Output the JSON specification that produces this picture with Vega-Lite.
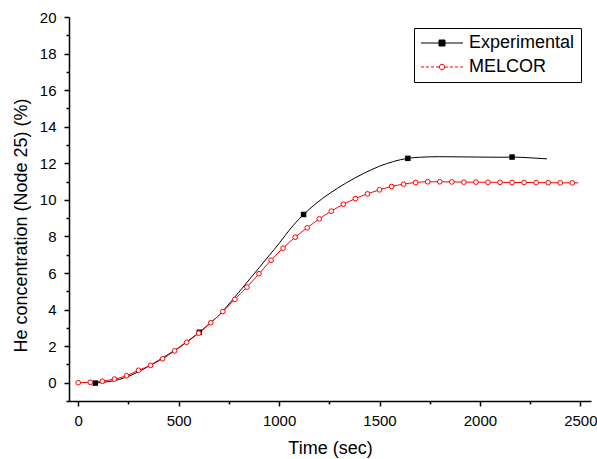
{
  "$schema": "https://vega.github.io/schema/vega-lite/v6.json",
  "width": 522,
  "height": 384,
  "autosize": {"type": "none"},
  "padding": {"left": 69, "top": 17, "right": 6, "bottom": 58},
  "background": "white",
  "config": {
    "view": {"stroke": null},
    "font": "Liberation Sans",
    "axis": {
      "grid": false,
      "domainColor": "black",
      "domainWidth": 1.5,
      "tickColor": "black",
      "tickWidth": 1.5,
      "labelColor": "black",
      "labelFont": "Liberation Sans",
      "labelFontSize": 15,
      "titleFont": "Liberation Sans",
      "titleFontSize": 18,
      "titleFontWeight": "normal",
      "titleColor": "black"
    }
  },
  "data": {
    "values": [
      {"series": "Experimental", "time": 85, "conc": -0.02, "marker": 1},
      {"series": "Experimental", "time": 150, "conc": 0.06, "marker": 0},
      {"series": "Experimental", "time": 200, "conc": 0.17, "marker": 0},
      {"series": "Experimental", "time": 250, "conc": 0.35, "marker": 0},
      {"series": "Experimental", "time": 300, "conc": 0.6, "marker": 0},
      {"series": "Experimental", "time": 350, "conc": 0.9, "marker": 0},
      {"series": "Experimental", "time": 400, "conc": 1.22, "marker": 0},
      {"series": "Experimental", "time": 450, "conc": 1.56, "marker": 0},
      {"series": "Experimental", "time": 500, "conc": 1.92, "marker": 0},
      {"series": "Experimental", "time": 550, "conc": 2.32, "marker": 0},
      {"series": "Experimental", "time": 603, "conc": 2.76, "marker": 1},
      {"series": "Experimental", "time": 650, "conc": 3.2, "marker": 0},
      {"series": "Experimental", "time": 700, "conc": 3.68, "marker": 0},
      {"series": "Experimental", "time": 750, "conc": 4.3, "marker": 0},
      {"series": "Experimental", "time": 800, "conc": 4.95, "marker": 0},
      {"series": "Experimental", "time": 850, "conc": 5.62, "marker": 0},
      {"series": "Experimental", "time": 900, "conc": 6.28, "marker": 0},
      {"series": "Experimental", "time": 950, "conc": 6.95, "marker": 0},
      {"series": "Experimental", "time": 1000, "conc": 7.62, "marker": 0},
      {"series": "Experimental", "time": 1030, "conc": 8.05, "marker": 0},
      {"series": "Experimental", "time": 1070, "conc": 8.6, "marker": 0},
      {"series": "Experimental", "time": 1122, "conc": 9.2, "marker": 1},
      {"series": "Experimental", "time": 1179, "conc": 9.76, "marker": 0},
      {"series": "Experimental", "time": 1254, "conc": 10.37, "marker": 0},
      {"series": "Experimental", "time": 1330, "conc": 10.9, "marker": 0},
      {"series": "Experimental", "time": 1420, "conc": 11.44, "marker": 0},
      {"series": "Experimental", "time": 1500, "conc": 11.84, "marker": 0},
      {"series": "Experimental", "time": 1570, "conc": 12.1, "marker": 0},
      {"series": "Experimental", "time": 1641, "conc": 12.27, "marker": 1},
      {"series": "Experimental", "time": 1700, "conc": 12.33, "marker": 0},
      {"series": "Experimental", "time": 1800, "conc": 12.36, "marker": 0},
      {"series": "Experimental", "time": 1900, "conc": 12.35, "marker": 0},
      {"series": "Experimental", "time": 2000, "conc": 12.34, "marker": 0},
      {"series": "Experimental", "time": 2100, "conc": 12.33, "marker": 0},
      {"series": "Experimental", "time": 2160, "conc": 12.34, "marker": 1},
      {"series": "Experimental", "time": 2250, "conc": 12.3, "marker": 0},
      {"series": "Experimental", "time": 2334, "conc": 12.24, "marker": 0},
      {"series": "MELCOR", "time": 0, "conc": 0, "marker": 1},
      {"series": "MELCOR", "time": 60, "conc": 0.02, "marker": 1},
      {"series": "MELCOR", "time": 120, "conc": 0.08, "marker": 1},
      {"series": "MELCOR", "time": 180, "conc": 0.2, "marker": 1},
      {"series": "MELCOR", "time": 240, "conc": 0.38, "marker": 1},
      {"series": "MELCOR", "time": 300, "conc": 0.68, "marker": 1},
      {"series": "MELCOR", "time": 360, "conc": 0.95, "marker": 1},
      {"series": "MELCOR", "time": 420, "conc": 1.31, "marker": 1},
      {"series": "MELCOR", "time": 480, "conc": 1.74, "marker": 1},
      {"series": "MELCOR", "time": 540, "conc": 2.21, "marker": 1},
      {"series": "MELCOR", "time": 600, "conc": 2.71, "marker": 1},
      {"series": "MELCOR", "time": 660, "conc": 3.28, "marker": 1},
      {"series": "MELCOR", "time": 720, "conc": 3.89, "marker": 1},
      {"series": "MELCOR", "time": 780, "conc": 4.56, "marker": 1},
      {"series": "MELCOR", "time": 840, "conc": 5.23, "marker": 1},
      {"series": "MELCOR", "time": 900, "conc": 5.96, "marker": 1},
      {"series": "MELCOR", "time": 960, "conc": 6.7, "marker": 1},
      {"series": "MELCOR", "time": 1020, "conc": 7.36, "marker": 1},
      {"series": "MELCOR", "time": 1080, "conc": 7.96, "marker": 1},
      {"series": "MELCOR", "time": 1140, "conc": 8.47, "marker": 1},
      {"series": "MELCOR", "time": 1200, "conc": 8.96, "marker": 1},
      {"series": "MELCOR", "time": 1260, "conc": 9.38, "marker": 1},
      {"series": "MELCOR", "time": 1320, "conc": 9.76, "marker": 1},
      {"series": "MELCOR", "time": 1380, "conc": 10.07, "marker": 1},
      {"series": "MELCOR", "time": 1440, "conc": 10.33, "marker": 1},
      {"series": "MELCOR", "time": 1500, "conc": 10.55, "marker": 1},
      {"series": "MELCOR", "time": 1560, "conc": 10.73, "marker": 1},
      {"series": "MELCOR", "time": 1620, "conc": 10.86, "marker": 1},
      {"series": "MELCOR", "time": 1680, "conc": 10.95, "marker": 1},
      {"series": "MELCOR", "time": 1740, "conc": 10.99, "marker": 1},
      {"series": "MELCOR", "time": 1800, "conc": 10.99, "marker": 1},
      {"series": "MELCOR", "time": 1860, "conc": 10.98, "marker": 1},
      {"series": "MELCOR", "time": 1920, "conc": 10.97, "marker": 1},
      {"series": "MELCOR", "time": 1980, "conc": 10.97, "marker": 1},
      {"series": "MELCOR", "time": 2040, "conc": 10.96, "marker": 1},
      {"series": "MELCOR", "time": 2100, "conc": 10.96, "marker": 1},
      {"series": "MELCOR", "time": 2160, "conc": 10.95, "marker": 1},
      {"series": "MELCOR", "time": 2220, "conc": 10.95, "marker": 1},
      {"series": "MELCOR", "time": 2280, "conc": 10.94, "marker": 1},
      {"series": "MELCOR", "time": 2340, "conc": 10.94, "marker": 1},
      {"series": "MELCOR", "time": 2400, "conc": 10.93, "marker": 1},
      {"series": "MELCOR", "time": 2460, "conc": 10.93, "marker": 1},
      {"series": "MELCOR", "time": 2490, "conc": 10.93, "marker": 0}
    ]
  },
  "encoding": {
    "x": {
      "field": "time",
      "type": "quantitative",
      "scale": {"domain": [-46, 2553], "nice": false, "zero": false},
      "axis": {
        "title": "Time (sec)",
        "values": [0, 250, 500, 750, 1000, 1250, 1500, 1750, 2000, 2250, 2500],
        "format": "d",
        "tickSize": {"condition": {"test": "datum.value % 500 === 0", "value": 5}, "value": 3},
        "labelExpr": "datum.value % 500 === 0 ? datum.label : ''",
        "labelPadding": 7,
        "titlePadding": 11,
        "labelFlush": false,
        "labelOverlap": false
      }
    },
    "y": {
      "field": "conc",
      "type": "quantitative",
      "scale": {"domain": [-1, 20], "nice": false, "zero": false},
      "axis": {
        "title": "He concentration (Node 25) (%)",
        "values": [-1, 0, 1, 2, 3, 4, 5, 6, 7, 8, 9, 10, 11, 12, 13, 14, 15, 16, 17, 18, 19, 20],
        "tickSize": {"condition": {"test": "datum.value % 2 === 0", "value": 5}, "value": 3},
        "labelExpr": "datum.value % 2 === 0 ? datum.label : ''",
        "labelPadding": 8,
        "titlePadding": 9,
        "titleY": 208,
        "labelFlush": false,
        "labelOverlap": false
      }
    }
  },
  "layer": [
    {
      "mark": {"type": "line", "strokeWidth": 1, "interpolate": "monotone"},
      "encoding": {
        "color": {
          "field": "series",
          "type": "nominal",
          "sort": ["Experimental", "MELCOR"],
          "scale": {"domain": ["Experimental", "MELCOR"], "range": ["black", "red"]},
          "legend": {
            "title": null,
            "orient": "none",
            "legendX": 345,
            "legendY": 11,
            "strokeColor": "black",
            "fillColor": "white",
            "padding": 6,
            "labelFont": "Liberation Sans",
            "labelFontSize": 18,
            "labelColor": "black",
            "labelOffset": 18,
            "symbolOffset": 13,
            "symbolSize": 36,
            "symbolStrokeWidth": 1,
            "rowPadding": 6,
            "encode": {
              "symbols": {
                "update": {
                  "shape": {"signal": "datum.value === 'Experimental' ? 'M-7,0H7M-1,-1H1V1H-1Z' : 'M-7,0H-6M-5.33,0H-4.33M-3.67,0H-2.67M-2,0H-1M1,0H2M2.67,0H3.67M4.33,0H5.33M6,0H7M0.9,0A0.9,0.9 0 1 1 -0.9,0A0.9,0.9 0 1 1 0.9,0Z'"},
                  "fill": {"signal": "datum.value === 'Experimental' ? 'black' : 'white'"},
                  "stroke": {"signal": "datum.value === 'Experimental' ? 'black' : 'red'"},
                  "strokeWidth": {"value": 1},
                  "opacity": {"value": 1}
                }
              }
            }
          }
        }
      }
    },
    {
      "transform": [{"filter": "datum.series === 'Experimental' && datum.marker === 1"}],
      "mark": {"type": "point", "shape": "square", "filled": true, "color": "black", "size": 30, "opacity": 1}
    },
    {
      "transform": [{"filter": "datum.series === 'MELCOR' && datum.marker === 1"}],
      "mark": {"type": "point", "shape": "circle", "filled": true, "fill": "white", "stroke": "red", "strokeWidth": 1, "size": 22, "opacity": 1}
    }
  ]
}
